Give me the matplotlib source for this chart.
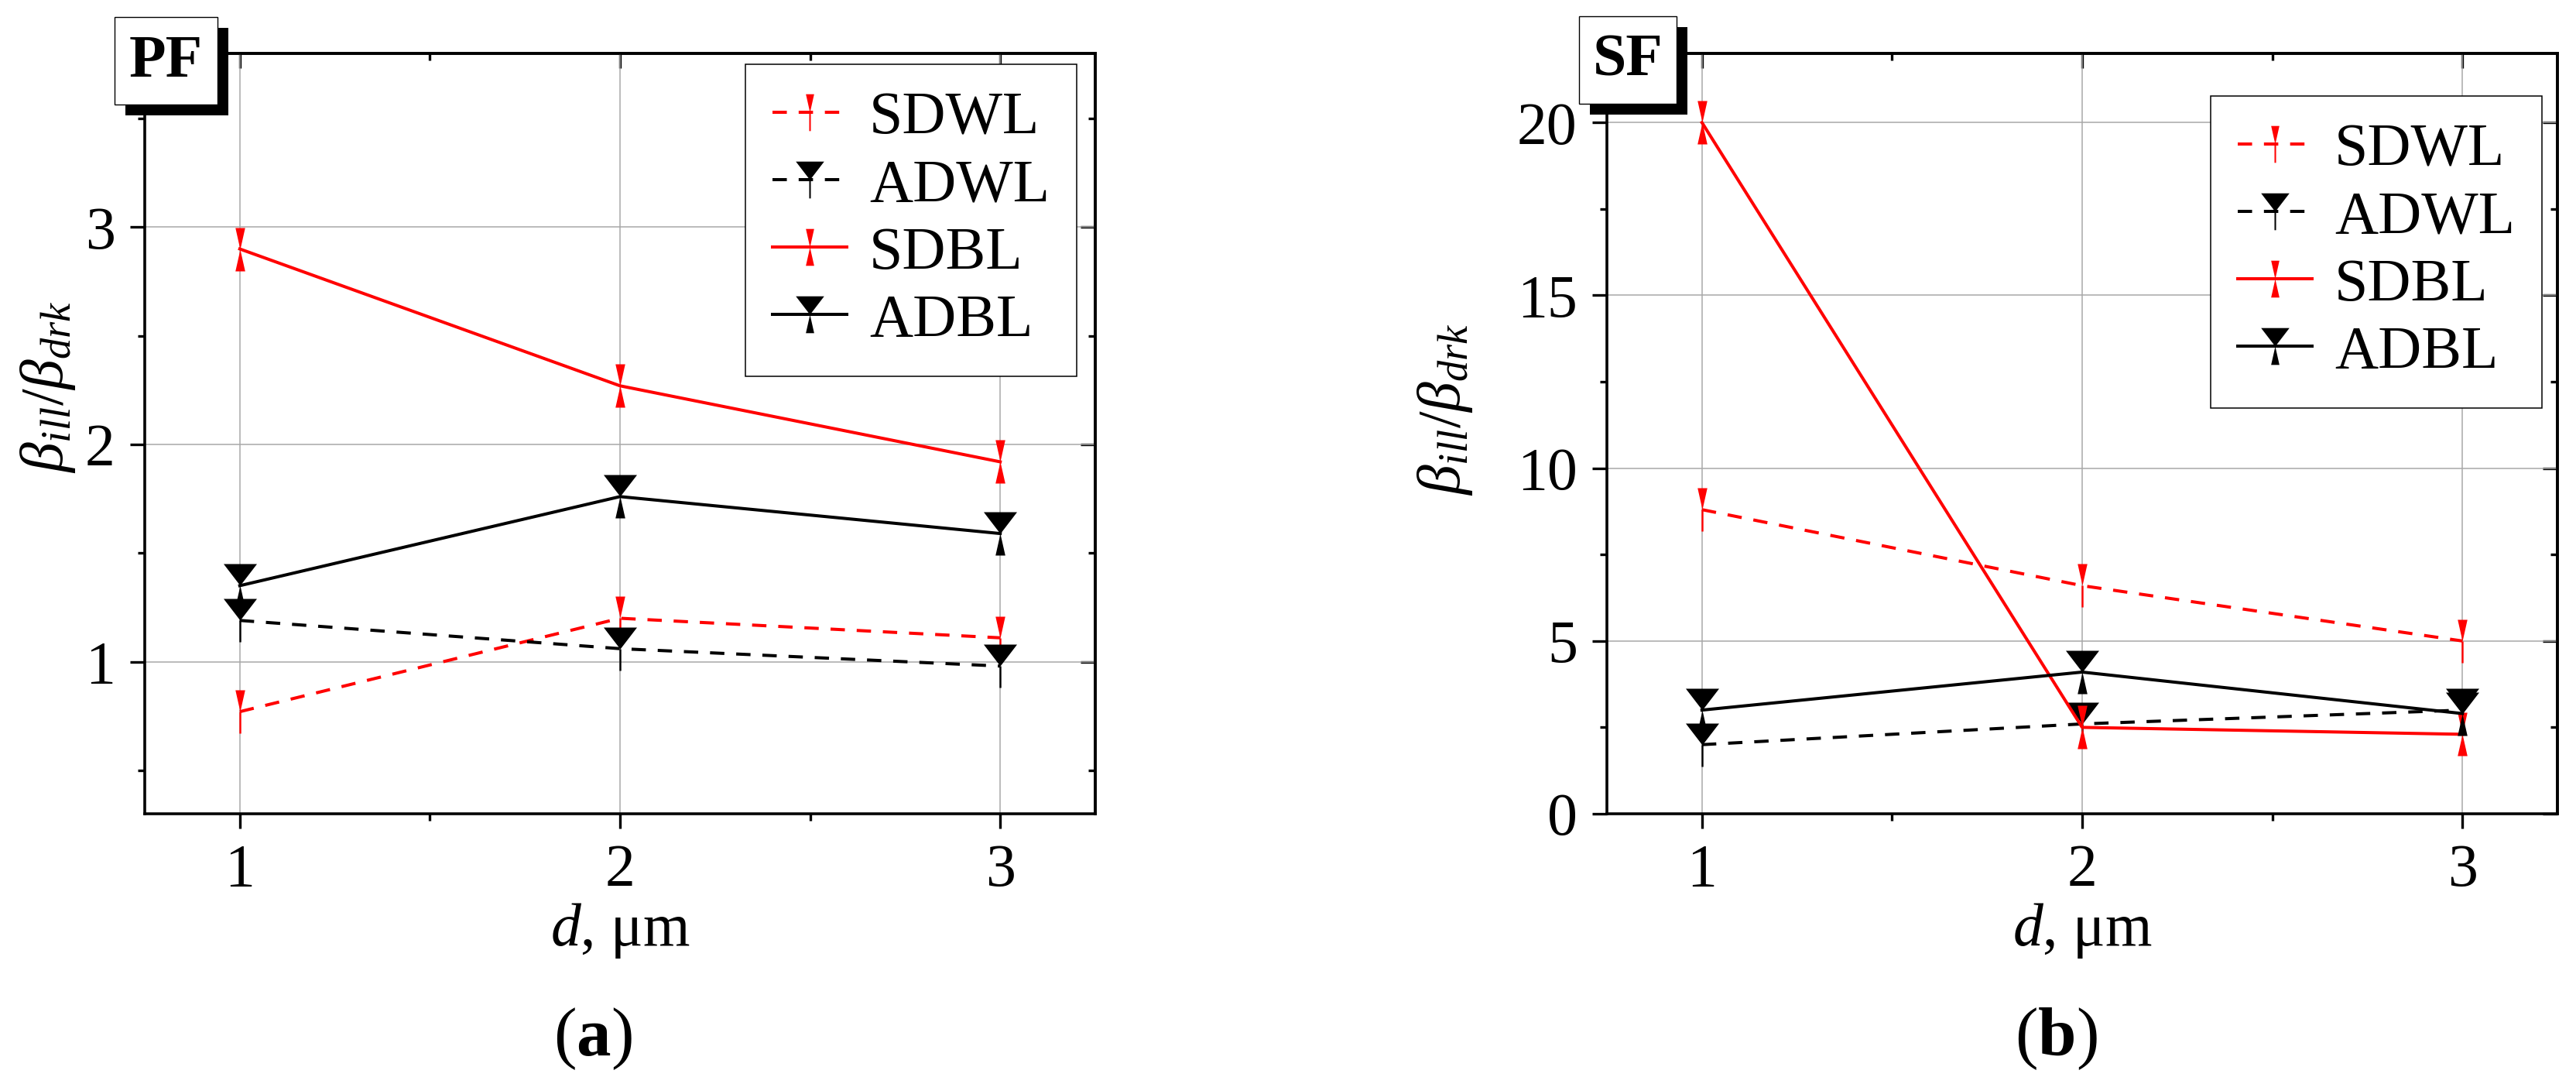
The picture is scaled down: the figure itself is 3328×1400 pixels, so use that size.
import matplotlib
matplotlib.use('Agg')
import matplotlib.pyplot as plt
from matplotlib.path import Path
from matplotlib.patches import Rectangle
from matplotlib.ticker import MultipleLocator, FixedLocator

plt.rcParams['font.family'] = ['Liberation Serif', 'DejaVu Serif']
plt.rcParams['mathtext.fontset'] = 'custom'
plt.rcParams['mathtext.rm'] = 'Liberation Serif'
plt.rcParams['mathtext.it'] = 'Liberation Serif:italic'
plt.rcParams['mathtext.bf'] = 'Liberation Serif:bold'

# data
d_um = [1, 2, 3]
series_names = ['SDWL', 'ADWL', 'SDBL', 'ADBL']
pf_sdwl = [0.77, 1.20, 1.11]
pf_adwl = [1.19, 1.06, 0.98]
pf_sdbl = [2.90, 2.27, 1.92]
pf_adbl = [1.35, 1.76, 1.59]
sf_sdwl = [8.8, 6.6, 5.0]
sf_adwl = [2.0, 2.6, 3.0]
sf_sdbl = [20.0, 2.5, 2.3]
sf_adbl = [3.0, 4.1, 2.9]

W, H = 3328, 1400
DPI = 100
fig = plt.figure(figsize=(W / DPI, H / DPI), dpi=DPI)


def fx(px):
    return px / W


def fy(py):
    return 1 - py / H


# marker: wedge above the point, wedge or thin bar below it (pixel units)
MH = 28


def make_marker(top_w, bottom):
    verts, codes = [], []

    def poly(pts):
        verts.extend(pts + [pts[0]])
        codes.extend([Path.MOVETO] + [Path.LINETO] * (len(pts) - 1) + [Path.CLOSEPOLY])

    poly([(0, 0), (-top_w / 2, MH), (top_w / 2, MH)])
    if bottom == 'wedge':
        poly([(0, 0), (-6.3, -MH), (6.3, -MH)])
    else:
        poly([(-1.2, 0), (1.2, 0), (1.2, -MH), (-1.2, -MH)])
    return Path(verts, codes)


MS = 2 * MH * 72 / DPI
DASH = (0, (4.6, 3.8))
styles = {
    'SDWL': dict(color='red', ls=DASH, marker=make_marker(12.5, 'bar')),
    'ADWL': dict(color='black', ls=DASH, marker=make_marker(43, 'bar')),
    'SDBL': dict(color='red', ls='-', marker=make_marker(12.5, 'wedge')),
    'ADBL': dict(color='black', ls='-', marker=make_marker(43, 'wedge')),
}

ax1 = fig.add_axes([fx(187), fy(1051), 1228 / W, 982 / H])
ax2 = fig.add_axes([fx(2076), fy(1051), 1228 / W, 982 / H])

panels = [
    (ax1, [pf_sdwl, pf_adwl, pf_sdbl, pf_adbl], (0.3, 3.8), [1, 2, 3], 0.5,
     (0.9805, 0.9857), (-0.071, 0.561)),
    (ax2, [sf_sdwl, sf_adwl, sf_sdbl, sf_adbl], (0, 22), [0, 5, 10, 15, 20], 2.5,
     (0.9837, 0.944), (-0.139, 0.532)),
]

for ax, vals, ylim, yt, ymin, leg_anchor, ylab in panels:
    for name, v in zip(series_names, vals):
        st = styles[name]
        ax.plot(d_um, v, color=st['color'], ls=st['ls'], lw=2.9,
                marker=st['marker'], ms=MS, mew=0, mfc=st['color'], label=name)
    ax.set_xlim(0.75, 3.25)
    ax.set_ylim(*ylim)
    ax.set_xticks(d_um)
    ax.set_yticks(yt)
    ax.xaxis.set_minor_locator(MultipleLocator(0.5))
    ax.yaxis.set_minor_locator(MultipleLocator(ymin))
    ax.grid(True, which='major', color='#a8a8a8', lw=1.1)
    ax.set_axisbelow(True)
    for sp in ax.spines.values():
        sp.set_linewidth(2.6)
    ax.tick_params(which='major', direction='out', length=13.5, width=2.4,
                   labelsize=56, pad=14)
    ax.tick_params(which='minor', direction='out', length=6.5, width=2.4)

    # top / right ticks point inwards
    sx = ax.secondary_xaxis('top')
    sx.xaxis.set_major_locator(FixedLocator(d_um))
    sx.xaxis.set_minor_locator(MultipleLocator(0.5))
    sx.tick_params(which='major', direction='in', length=13.5, width=2.4, labeltop=False)
    sx.tick_params(which='minor', direction='in', length=6.5, width=2.4)
    sx.spines['top'].set_linewidth(2.6)
    sy = ax.secondary_yaxis('right')
    sy.yaxis.set_major_locator(FixedLocator(yt))
    sy.yaxis.set_minor_locator(MultipleLocator(ymin))
    sy.tick_params(which='major', direction='in', length=13.5, width=2.4, labelright=False)
    sy.tick_params(which='minor', direction='in', length=6.5, width=2.4)
    sy.spines['right'].set_linewidth(2.6)

    ax.set_xlabel(r'$d$, μm', fontsize=56)
    ax.xaxis.set_label_coords(0.5, -0.115)
    ax.set_ylabel(r'$\beta_{ill}/\beta_{drk}$', fontsize=56)
    ax.yaxis.set_label_coords(*ylab)

    leg = ax.legend(loc='upper right', bbox_to_anchor=leg_anchor, borderaxespad=0,
                    fontsize=56, frameon=True, fancybox=False, framealpha=1,
                    edgecolor='black', handlelength=1.23, handletextpad=0.37,
                    borderpad=0.45, labelspacing=0.2, markerscale=0.85)
    leg.get_frame().set_linewidth(1.1)
    leg.set_zorder(20)

# PF / SF tag boxes with shadow
for (x0, y0, w, h, label) in [(148, 22, 133, 113, 'PF'), (2040, 21, 126, 113, 'SF')]:
    fig.add_artist(Rectangle((fx(x0 + 14), fy(y0 + 14 + h)), w / W, h / H,
                             transform=fig.transFigure, fc='black', ec='none', zorder=10))
    fig.add_artist(Rectangle((fx(x0), fy(y0 + h)), w / W, h / H,
                             transform=fig.transFigure, fc='white', ec='black', lw=1.0, zorder=11))
    fig.text(fx(x0 + w / 2), fy(y0 + h / 2 + 2), label, fontsize=56, fontweight='bold',
             ha='center', va='center', zorder=12)

fig.text(fx(766), fy(1342), r'($\mathbf{a}$)', fontsize=64, ha='center', va='center')
fig.text(fx(2656), fy(1342), r'($\mathbf{b}$)', fontsize=64, ha='center', va='center')

fig.savefig('out.png', dpi=DPI)
